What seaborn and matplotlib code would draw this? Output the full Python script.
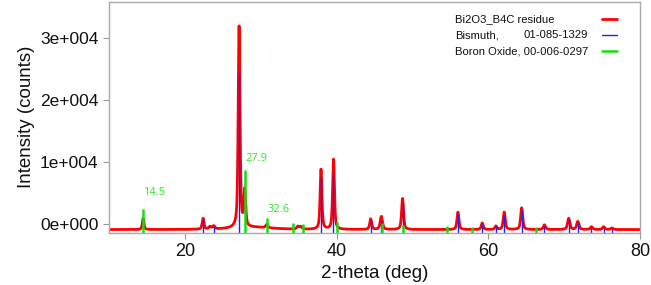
import numpy as np
import pandas as pd
import seaborn as sns
import matplotlib
matplotlib.use("Agg")
import matplotlib.pyplot as plt
from matplotlib.ticker import FuncFormatter

# measured pattern, described by its reflections (2-theta, height above background)
peak_pos = [14.5, 22.4, 23.3, 23.8, 27.15, 27.9, 29.0, 30.8, 34.9, 35.3, 37.95, 39.6,
            44.5, 45.9, 48.7, 56.0, 59.2, 61.0, 62.1, 64.4, 67.4, 70.6, 71.8,
            73.6, 75.2, 76.3]
peak_height = [1800, 1750, 400, 500, 32600, 5800, 350, 550, 450, 400, 9700, 11300,
               1700, 2100, 5000, 2800, 1050, 550, 2800, 3500, 750, 1800, 1300,
               450, 450, 250]
peak_fwhm = [0.25, 0.28, 0.35, 0.35, 0.28, 0.28, 6.0, 0.35, 0.35, 0.35, 0.28, 0.28,
             0.3, 0.35, 0.3, 0.3, 0.3, 0.3, 0.32, 0.32, 0.35, 0.35, 0.35,
             0.35, 0.35, 0.35]
background = -900

# reference sticks (top of stick, in counts)
bi_pos = [22.4, 23.8, 27.17, 37.95, 39.55, 44.5, 45.9, 48.7, 56.0, 59.2, 61.0,
          62.1, 64.4, 67.4, 70.6, 71.8, 73.6, 75.2, 76.3]
bi_top = [800, -300, 24500, 7600, 8200, 700, 600, 3400, 1600, 0, -400,
          1500, 2200, -300, 800, 200, -500, -600, -800]
bo_pos = [14.5, 27.9, 30.8, 34.3, 35.6, 40.0, 46.0, 48.8, 54.6, 57.9, 66.3]
bo_top = [2400, 8700, 900, 200, 0, 400, 200, -100, -300, -500, -500]

labels = ["14.5", "27.9", "32.6"]
label_x = [14.55, 28.0, 30.95]
label_y = [5000, 10500, 2400]

legend_names = ["Bi2O3_B4C residue", "Bismuth,", "Boron Oxide, 00-006-0297"]
legend_codes = ["", "01-085-1329", ""]
legend_colors = ["#ff0000", "#2020ff", "#10e010"]
legend_widths = [2.0, 1.0, 1.8]

ymin, ymax = -1370, 35800

# build profile from the peak list (pseudo-Voigt)
tt = np.arange(10, 80.001, 0.02)
counts = np.full_like(tt, background, dtype=float)
for p, h, w in zip(peak_pos, peak_height, peak_fwhm):
    d = (tt - p) / (w / 2)
    counts += h * (0.6 / (1 + d**2) + 0.4 * np.exp(-np.log(2) * d**2))
df = pd.DataFrame({"2theta": tt, "counts": counts})

sns.set_style("white")
plt.rcParams["font.family"] = ["Liberation Sans", "DejaVu Sans"]
plt.rcParams["text.color"] = "#111111"
plt.rcParams["axes.labelcolor"] = "#111111"
plt.rcParams["xtick.color"] = "#111111"
plt.rcParams["ytick.color"] = "#111111"

fig = plt.figure(figsize=(6.51, 2.85), dpi=100)
ax = fig.add_axes([109 / 651, 52.5 / 285, 531 / 651, 230.5 / 285])

sns.lineplot(data=df, x="2theta", y="counts", ax=ax, color="#ff0000", lw=2.0)
ax.vlines(bi_pos, ymin, bi_top, color="#2020ff", lw=1.0)
ax.vlines(bo_pos, ymin, bo_top, color="#10e010", lw=1.8)

for t, x, y in zip(labels, label_x, label_y):
    ax.text(x, y, t, color="#22ee22", fontsize=8, family=["Open Sans", "DejaVu Sans"],
            ha="left", va="center")

# legend: text on the left, line sample on the right
for i, (name, code, c, w) in enumerate(zip(legend_names, legend_codes, legend_colors, legend_widths)):
    yy = 1 - (17 + 16 * i) / 230.5
    ax.text((455 - 109) / 531, yy, name, transform=ax.transAxes, fontsize=8.1,
            ha="left", va="center")
    if code:
        ax.text((588 - 109) / 531, yy, code, transform=ax.transAxes, fontsize=8.1,
                ha="right", va="center")
    ax.plot([(602 - 109) / 531, (617 - 109) / 531], [yy, yy], color=c, lw=w,
            transform=ax.transAxes)

ax.set_xlim(10, 80)
ax.set_ylim(ymin, ymax)
ax.set_xticks([20, 40, 60, 80])
ax.set_yticks([0, 10000, 20000, 30000])


def sci(v, pos):
    if v == 0:
        return "0e+000"
    e = int(np.floor(np.log10(abs(v))))
    return f"{v / 10**e:.0f}e+{e:03d}"


ax.yaxis.set_major_formatter(FuncFormatter(sci))
ax.tick_params(axis="both", direction="out", length=4, color="#999999",
               labelsize=13, bottom=True, left=True)
ax.tick_params(axis="y", labelsize=12.5)
for s in ax.spines.values():
    s.set_color("#aaaaaa")
    s.set_linewidth(1.0)

ax.set_xlabel("2-theta (deg)", fontsize=13.5)
ax.set_ylabel("Intensity (counts)", fontsize=13.5)

fig.savefig("out.png", dpi=100)
